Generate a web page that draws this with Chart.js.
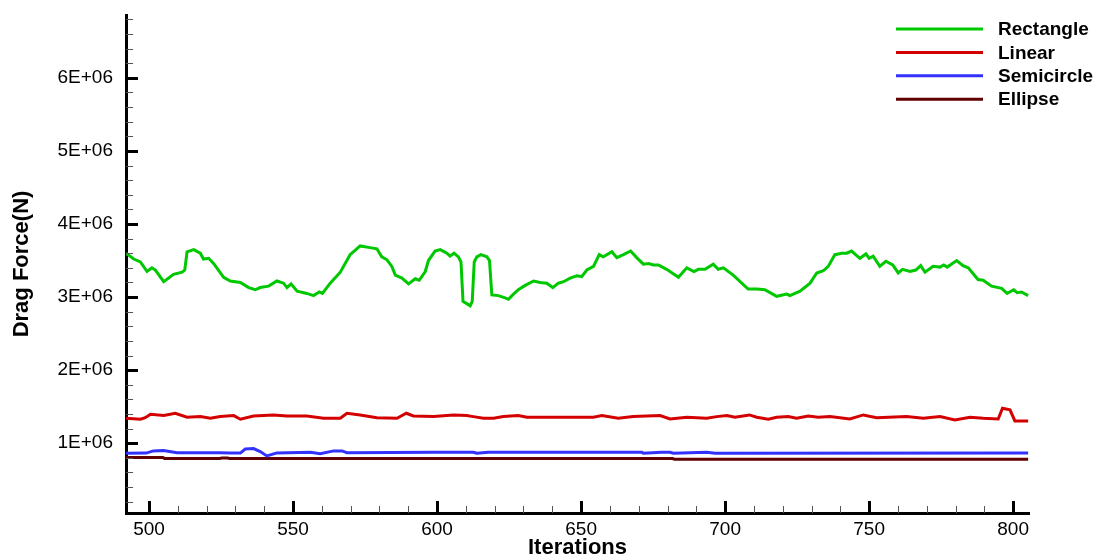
<!DOCTYPE html>
<html>
<head>
<meta charset="utf-8">
<script src="https://cdn.jsdelivr.net/npm/chart.js@4/dist/chart.umd.min.js"></script>
<style>
    body { margin: 0; background: #fff; }
    #wrap { position: relative; width: 1096px; height: 559px; }
</style>
</head>
<body>
<div id="wrap"><canvas id="chart-drag" width="1096" height="559"></canvas></div>
<script>
// drag force values in units of 1E+06 N
const rectIter = [492, 494.7, 497, 499.3, 501, 502.2, 505.1, 508.5, 511.5, 512.4,
    513.2, 515.5, 517.8, 518.9, 520.7, 522.4, 525.9, 528.2, 531.7, 534.6,
    536.9, 538.6, 541.5, 544.4, 546.7, 547.9, 549.3, 551.4, 554.8, 557.1,
    559.1, 560.2, 562.9, 566.4, 569.8, 573.3, 576.2, 579.1, 580.8, 582.6,
    584.3, 585.5, 587.8, 590.1, 592.4, 593.8, 595.9, 597, 599.3, 601.1,
    603.4, 604.5, 605.9, 607.4, 608.3, 609, 610.3, 611.5, 612.2, 612.9,
    613.8, 615.2, 617.3, 618.2, 619, 621.3, 623.6, 624.8, 626, 628.2,
    630.6, 633.5, 635.8, 638.1, 640.2, 642.1, 643.9, 646.2, 648.5, 650.2,
    652, 654.3, 656.3, 657.7, 660.7, 662.4, 664.7, 667.2, 669.3, 671.6,
    673.4, 675.1, 676.8, 679.7, 683.8, 686.7, 689.2, 690.7, 693, 695.9,
    697.6, 699.4, 702.8, 708, 711, 713.8, 717.9, 721.4, 722.5, 726,
    729.5, 731.8, 734.1, 735.8, 738.1, 740.5, 742.2, 743.9, 746.8, 748.9,
    750, 751.4, 753.7, 755.8, 758.2, 760.1, 761.6, 764.2, 766.2, 767.9,
    769.4, 772.2, 774.6, 775.9, 777.1, 780.4, 782.6, 784.4, 787.8, 789.6,
    792.5, 796, 797.9, 800.2, 801.4, 802.9, 805.2];
const rectDrag = [3.60, 3.52, 3.48, 3.35, 3.40, 3.37, 3.21, 3.31, 3.34, 3.37,
    3.62, 3.65, 3.60, 3.52, 3.53, 3.46, 3.27, 3.22, 3.20, 3.13,
    3.10, 3.13, 3.15, 3.22, 3.19, 3.13, 3.18, 3.08, 3.05, 3.02,
    3.07, 3.05, 3.19, 3.34, 3.58, 3.70, 3.68, 3.66, 3.55, 3.51,
    3.42, 3.30, 3.26, 3.18, 3.25, 3.23, 3.35, 3.50, 3.63, 3.65,
    3.60, 3.56, 3.60, 3.55, 3.48, 2.94, 2.91, 2.88, 2.94, 3.48,
    3.55, 3.58, 3.55, 3.50, 3.03, 3.02, 2.99, 2.97, 3.02, 3.10,
    3.16, 3.22, 3.20, 3.19, 3.13, 3.19, 3.21, 3.26, 3.29, 3.28,
    3.37, 3.42, 3.58, 3.55, 3.62, 3.54, 3.58, 3.63, 3.54, 3.45,
    3.46, 3.44, 3.44, 3.38, 3.27, 3.40, 3.35, 3.38, 3.38, 3.45,
    3.38, 3.40, 3.30, 3.11, 3.11, 3.10, 3.01, 3.04, 3.02, 3.08,
    3.19, 3.33, 3.36, 3.42, 3.58, 3.60, 3.60, 3.63, 3.53, 3.59,
    3.53, 3.56, 3.42, 3.49, 3.44, 3.33, 3.38, 3.35, 3.37, 3.43,
    3.34, 3.42, 3.41, 3.44, 3.41, 3.50, 3.43, 3.40, 3.24, 3.23,
    3.15, 3.12, 3.05, 3.10, 3.06, 3.07, 3.02];

const linIter = [492, 497, 498.7, 500.5, 505.1, 509.1, 513.2, 517.8, 521.3, 524.7,
    529.4, 531.7, 536.3, 543.2, 547.9, 554.8, 560.6, 566.4, 568.7, 573.3,
    579.1, 586.1, 589.3, 591.8, 598.8, 605.7, 610.3, 612.6, 616.1, 619.6,
    623, 628.2, 631.2, 642.7, 654.3, 657.2, 662.9, 668.1, 677.4, 680.9,
    686.7, 693.6, 697.1, 700.6, 703.4, 708.4, 711, 715, 717.9, 721.9,
    724.8, 728.9, 732.3, 736.4, 743.3, 748, 752.6, 763, 768.8, 774.6,
    779.8, 785, 789.6, 794.8, 796.3, 798.9, 800.6, 805.2];
const linDrag = [1.342, 1.328, 1.350, 1.397, 1.378, 1.410, 1.356, 1.364, 1.342, 1.364,
    1.378, 1.328, 1.373, 1.387, 1.373, 1.373, 1.342, 1.342, 1.410, 1.387,
    1.350, 1.342, 1.410, 1.373, 1.364, 1.387, 1.378, 1.364, 1.342, 1.342,
    1.364, 1.378, 1.356, 1.356, 1.356, 1.378, 1.342, 1.364, 1.378, 1.333,
    1.356, 1.342, 1.364, 1.378, 1.356, 1.387, 1.356, 1.328, 1.356, 1.364,
    1.342, 1.373, 1.356, 1.364, 1.332, 1.387, 1.350, 1.364, 1.342, 1.364,
    1.319, 1.356, 1.342, 1.332, 1.479, 1.456, 1.305, 1.305];

const semiIter = [492, 499, 501.5, 505, 509.7, 524.7, 528, 531.7, 533.4, 536.3,
    538.6, 540.9, 544.4, 556, 559.4, 564.1, 567, 568.7, 598.8, 601.1,
    612.6, 613.8, 617.8, 671.1, 671.6, 678, 680.9, 682, 693.6, 696.5,
    805.2];
const semiDrag = [0.863, 0.865, 0.895, 0.899, 0.871, 0.871, 0.865, 0.865, 0.920, 0.926,
    0.885, 0.826, 0.867, 0.875, 0.857, 0.895, 0.895, 0.871, 0.875, 0.875,
    0.877, 0.863, 0.877, 0.877, 0.863, 0.877, 0.877, 0.863, 0.877, 0.863,
    0.865];

const ellIter = [492, 504.8, 505.4, 524.5, 525.3, 527.2, 528, 681.8, 682.4, 805.2];
const ellDrag = [0.805, 0.805, 0.79, 0.79, 0.797, 0.797, 0.79, 0.79, 0.78, 0.78];

const seriesNames = ["Rectangle", "Linear", "Semicircle", "Ellipse"];
const seriesColors = ["#00c800", "#d40000", "#3232ff", "#600000"];

// labelled tick values
const xTicks = [500, 550, 600, 650, 700, 750, 800];
const yTicks = [1e6, 2e6, 3e6, 4e6, 5e6, 6e6];

const FONT = "'Liberation Sans', Arial, sans-serif";

function toPoints(iters, vals) {
    return iters.map((it, i) => ({ x: it, y: vals[i] * 1e6 }));
}

// inward major/minor ticks like the original plot
const tickMarks = {
    id: "tickMarks",
    afterDraw(chart) {
        const ctx = chart.ctx;
        const area = chart.chartArea;
        const xs = chart.scales.x;
        const ys = chart.scales.y;
        ctx.save();
        for (let i = 0; i <= 40; i++) {
            let v = i * 0.2e6;
            if (v < ys.min || v > ys.max) continue;
            let py = Math.round(ys.getPixelForValue(v)) + 0.5;
            let major = i % 5 === 0;
            ctx.lineWidth = major ? 3 : 1;
            ctx.strokeStyle = major ? "#000" : "#555";
            ctx.beginPath();
            ctx.moveTo(area.left, py);
            ctx.lineTo(area.left + (major ? 12 : 7), py);
            ctx.stroke();
        }
        for (let it = 490; it <= 810; it += 10) {
            if (it < xs.min || it > xs.max) continue;
            let px = Math.round(xs.getPixelForValue(it)) + 0.5;
            let major = it % 50 === 0;
            ctx.lineWidth = major ? 3 : 1;
            ctx.strokeStyle = major ? "#000" : "#555";
            ctx.beginPath();
            ctx.moveTo(px, area.bottom);
            ctx.lineTo(px, area.bottom - (major ? 12 : 7));
            ctx.stroke();
        }
        ctx.restore();
    }
};

// legend in the top right corner
const cornerLegend = {
    id: "cornerLegend",
    afterDraw(chart) {
        const ctx = chart.ctx;
        ctx.save();
        ctx.font = "bold 19px " + FONT;
        ctx.textBaseline = "middle";
        ctx.textAlign = "left";
        chart.data.datasets.forEach((ds, i) => {
            let y = 29 + i * 23.4;
            ctx.strokeStyle = ds.borderColor;
            ctx.lineWidth = 3;
            ctx.beginPath();
            ctx.moveTo(896, y);
            ctx.lineTo(983, y);
            ctx.stroke();
            ctx.fillStyle = "#000";
            ctx.fillText(ds.label, 998, y + 1);
        });
        ctx.restore();
    }
};

const allIters = [rectIter, linIter, semiIter, ellIter];
const allDrags = [rectDrag, linDrag, semiDrag, ellDrag];

const canvas = document.getElementById("chart-drag");
const ctx = canvas.getContext("2d");
new Chart(ctx, {
    type: "line",
    data: {
        datasets: seriesNames.map((name, i) => ({
            label: name,
            data: toPoints(allIters[i], allDrags[i]),
            borderColor: seriesColors[i],
            backgroundColor: seriesColors[i],
            borderWidth: 3,
            pointRadius: 0,
            tension: 0,
            fill: false
        }))
    },
    options: {
        responsive: false,
        animation: false,
        events: [],
        layout: { autoPadding: false, padding: { top: 15, right: 67, left: 0, bottom: 0 } },
        plugins: {
            legend: { display: false },
            tooltip: { enabled: false }
        },
        scales: {
            x: {
                type: "linear",
                min: 492,
                max: 805.5,
                grid: { display: false, drawTicks: false },
                border: { display: true, color: "#000", width: 3 },
                afterBuildTicks(scale) { scale.ticks = xTicks.map(v => ({ value: v })); },
                ticks: {
                    padding: 5,
                    color: "#000",
                    font: { family: FONT, size: 19 }
                },
                title: {
                    display: true,
                    text: "Iterations",
                    color: "#000",
                    padding: { top: 0, bottom: 0 },
                    font: { family: FONT, size: 22, weight: "bold", lineHeight: 1 }
                },
                afterFit(scale) {
                    scale.height = 46;
                    scale.paddingLeft = 0;
                    scale.paddingRight = 0;
                }
            },
            y: {
                type: "linear",
                min: 0.045e6,
                max: 6.86e6,
                grid: { display: false, drawTicks: false },
                border: { display: true, color: "#000", width: 3 },
                afterBuildTicks(scale) { scale.ticks = yTicks.map(v => ({ value: v })); },
                ticks: {
                    padding: 13,
                    color: "#000",
                    font: { family: FONT, size: 19 },
                    callback: function (value) {
                        return Math.round(value / 1e6) + "E+06";
                    }
                },
                title: {
                    display: true,
                    text: "Drag Force(N)",
                    color: "#000",
                    padding: { top: 11, bottom: 0 },
                    font: { family: FONT, size: 22, weight: "bold", lineHeight: 1 }
                },
                afterFit(scale) {
                    scale.width = 126;
                    scale.paddingTop = 0;
                    scale.paddingBottom = 0;
                }
            }
        }
    },
    plugins: [tickMarks, cornerLegend]
});
</script>
</body>
</html>
